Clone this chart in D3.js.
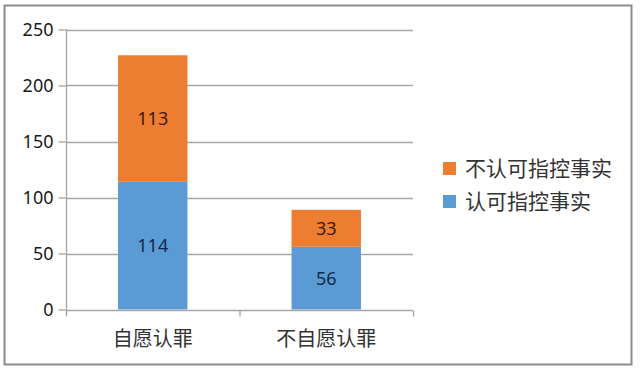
<!DOCTYPE html>
<html><head><meta charset="utf-8">
<script src="https://cdn.jsdelivr.net/npm/d3@7"></script>
<style>body{margin:0;background:#fff}svg{display:block}</style>
</head><body>
<script>
const categories = ["自愿认罪", "不自愿认罪"];
const seriesNames = ["认可指控事实", "不认可指控事实"];
const acknowledged = [114, 56];
const notAcknowledged = [113, 33];
const yTicks = [0, 50, 100, 150, 200, 250];
const colors = ["#5B9BD5", "#ED7D31"];
const labelColors = ["#102a4a", "#3d1a0a"];

const W = 640, H = 373;
const svg = d3.select("body").append("svg").attr("width", W).attr("height", H);
svg.append("rect").attr("x", 4.5).attr("y", 5.5).attr("width", 627).attr("height", 359)
  .attr("fill", "#fff").attr("stroke", "#8c8c8c").attr("stroke-width", 2);

const x = d3.scaleBand().domain(categories).range([66, 413]).padding(0);
const y = d3.scaleLinear().domain([0, 250]).range([309.5, 29.5]);

const font = "'Noto Sans', 'Noto Sans CJK SC', sans-serif";
const cjk = "'Noto Sans CJK SC', sans-serif";

// gridlines
svg.append("g").selectAll("line").data(yTicks.filter(d => d > 0)).join("line")
  .attr("x1", 66).attr("x2", 413).attr("y1", d => Math.round(y(d)) + 0.5).attr("y2", d => Math.round(y(d)) + 0.5)
  .attr("stroke", "#a6a6a6").attr("stroke-width", 1.3);

// y axis
const yAxis = svg.append("g").attr("transform", "translate(66.5,0)")
  .call(d3.axisLeft(y).tickValues(yTicks).tickSize(8).tickPadding(5));
yAxis.select(".domain").attr("stroke", "#a6a6a6").attr("stroke-width", 1.3).attr("d", `M0,${y(0)+5}V${y(250)}`);
yAxis.selectAll(".tick line").attr("stroke", "#a6a6a6").attr("stroke-width", 1.3);
yAxis.selectAll(".tick text").attr("font-family", font).attr("font-size", 18).attr("fill", "#1a1a1a");

// stacked data
const rows = categories.map((c, i) => ({cat: c, a: acknowledged[i], b: notAcknowledged[i]}));
const stack = d3.stack().keys(["a", "b"])(rows);
const barW = x.bandwidth() * 0.40;

stack.forEach((layer, li) => {
  const g = svg.append("g");
  g.selectAll("rect").data(layer).join("rect")
    .attr("x", d => x(d.data.cat) + x.bandwidth() / 2 - barW / 2)
    .attr("width", barW)
    .attr("y", d => y(d[1]))
    .attr("height", d => y(d[0]) - y(d[1]))
    .attr("fill", colors[li]);
  g.selectAll("text").data(layer).join("text")
    .attr("x", d => x(d.data.cat) + x.bandwidth() / 2)
    .attr("y", d => (y(d[0]) + y(d[1])) / 2)
    .attr("dy", "0.36em").attr("text-anchor", "middle")
    .attr("font-family", font).attr("font-size", 18).attr("fill", labelColors[li])
    .text(d => d[1] - d[0]);
});

// x axis
const xAxis = svg.append("g").attr("transform", `translate(0,${Math.round(y(0)) + 0.5})`);
xAxis.append("line").attr("x1", 66).attr("x2", 413).attr("stroke", "#a6a6a6").attr("stroke-width", 1.3);
const bounds = [66, ...categories.map(c => x(c) + x.bandwidth())];
xAxis.selectAll("line.tk").data(bounds).join("line").attr("class", "tk")
  .attr("x1", d => d + 0.5).attr("x2", d => d + 0.5).attr("y1", 0).attr("y2", 6)
  .attr("stroke", "#a6a6a6").attr("stroke-width", 1.3);
xAxis.selectAll("text").data(categories).join("text")
  .attr("x", d => x(d) + x.bandwidth() / 2).attr("y", 28).attr("dy", "0.36em")
  .attr("text-anchor", "middle").attr("font-family", cjk).attr("font-size", 20).attr("fill", "#333")
  .text(d => d);

// legend (reverse order: top is 不认可)
const legendItems = [1, 0];
const lg = svg.append("g").selectAll("g").data(legendItems).join("g")
  .attr("transform", (d, i) => `translate(443,${162 + i * 33})`);
lg.append("rect").attr("width", 13).attr("height", 13).attr("fill", d => colors[d]);
lg.append("text").attr("x", 22).attr("y", 6.5).attr("dy", "0.36em")
  .attr("font-family", cjk).attr("font-size", 21).attr("fill", "#333")
  .text(d => seriesNames[d]);
</script>
</body></html>
